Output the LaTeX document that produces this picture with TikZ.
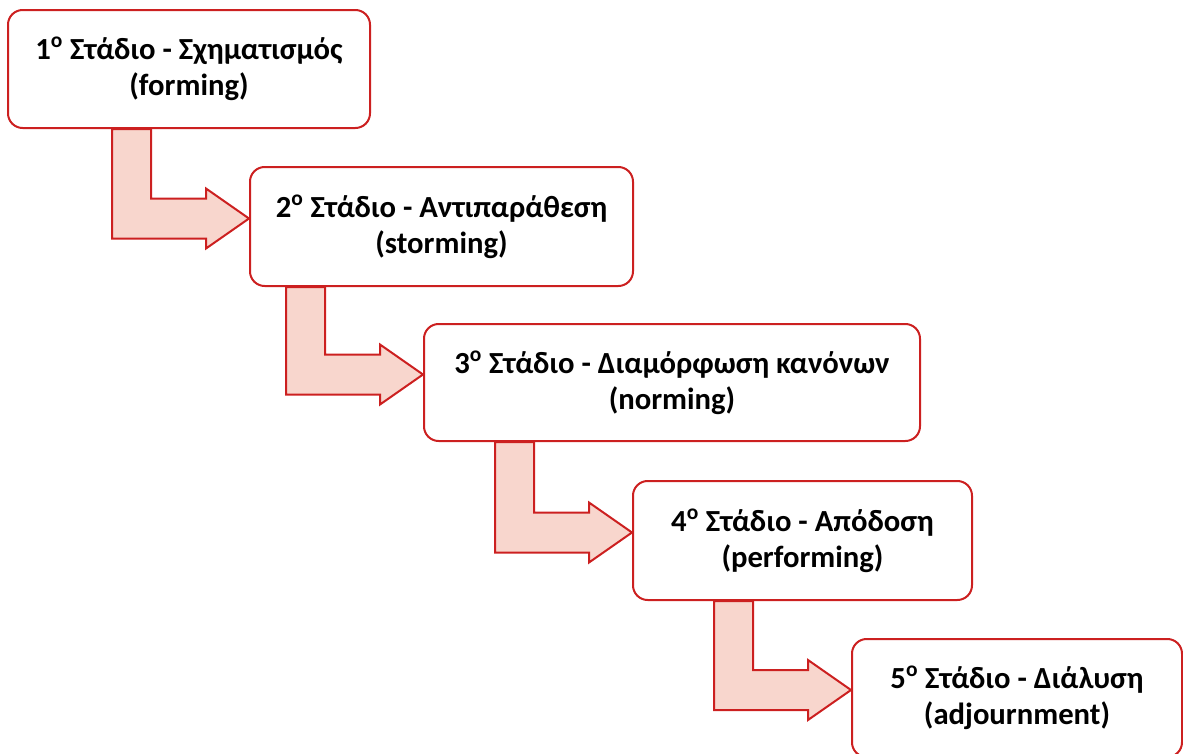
\documentclass[tikz,border=0pt]{standalone}
\usepackage{fontspec}
\setmainfont{Carlito}
\usetikzlibrary{calc}

\definecolor{stageRed}{RGB}{204,32,32}
\definecolor{stagePink}{RGB}{248,214,205}

\tikzset{
  stage/.style={draw=stageRed, line width=1.5pt, fill=white, rounded corners=11pt, align=center, inner sep=0.75pt, font=\fontsize{23}{27}\selectfont\bfseries},
  bent/.style={draw=stageRed, line width=1.5pt, fill=stagePink, line join=miter}
}

\begin{document}
\begin{tikzpicture}[x=0.75pt,y=0.75pt,yscale=-1,xscale=1]
\useasboundingbox (0,0) rectangle (1183,754);

%Shape: Rounded Rect
\node [stage, minimum width=271.5pt, minimum height=88.5pt] (s1) at (189,69) {1\textsuperscript{o} Στάδιο - Σχηματισμός\\(forming)};
%Shape: Rounded Rect
\node [stage, minimum width=287.25pt, minimum height=89.25pt] (s2) at (441.5,226.5) {2\textsuperscript{o} Στάδιο - Αντιπαράθεση\\(storming)};
%Shape: Rounded Rect
\node [stage, minimum width=372pt, minimum height=87.75pt] (s3) at (672,382.5) {3\textsuperscript{o} Στάδιο - Διαμόρφωση κανόνων\\(norming)};
%Shape: Rounded Rect
\node [stage, minimum width=254.25pt, minimum height=89.25pt] (s4) at (802.5,540.5) {4\textsuperscript{o} Στάδιο - Απόδοση\\(performing)};
%Shape: Rounded Rect
\node [stage, minimum width=247.5pt, minimum height=88.5pt] (s5) at (1017,698) {5\textsuperscript{o} Στάδιο - Διάλυση\\(adjournment)};

%Shape: Right Angle Arrow
\coordinate (c1) at ($(s2.west)+(-98,-28)$);
\coordinate (d1) at ($(s2.west)+(-137,12)$);
\draw [bent] (c1 |- s1.south) -- (c1) -- ++(55,0) -- ++(0,-10) -- ($(s2.west)+(0,-8)$) -- ++(-43,30) -- ++(0,-10) -- (d1) -- (d1 |- s1.south) -- cycle ;
%Shape: Right Angle Arrow
\coordinate (c2) at ($(s3.west)+(-98,-28)$);
\coordinate (d2) at ($(s3.west)+(-137,12)$);
\draw [bent] (c2 |- s2.south) -- (c2) -- ++(55,0) -- ++(0,-10) -- ($(s3.west)+(0,-8)$) -- ++(-43,30) -- ++(0,-10) -- (d2) -- (d2 |- s2.south) -- cycle ;
%Shape: Right Angle Arrow
\coordinate (c3) at ($(s4.west)+(-98,-28)$);
\coordinate (d3) at ($(s4.west)+(-137,12)$);
\draw [bent] (c3 |- s3.south) -- (c3) -- ++(55,0) -- ++(0,-10) -- ($(s4.west)+(0,-8)$) -- ++(-43,30) -- ++(0,-10) -- (d3) -- (d3 |- s3.south) -- cycle ;
%Shape: Right Angle Arrow
\coordinate (c4) at ($(s5.west)+(-98,-28)$);
\coordinate (d4) at ($(s5.west)+(-137,12)$);
\draw [bent] (c4 |- s4.south) -- (c4) -- ++(55,0) -- ++(0,-10) -- ($(s5.west)+(0,-8)$) -- ++(-43,30) -- ++(0,-10) -- (d4) -- (d4 |- s4.south) -- cycle ;

\end{tikzpicture}
\end{document}
